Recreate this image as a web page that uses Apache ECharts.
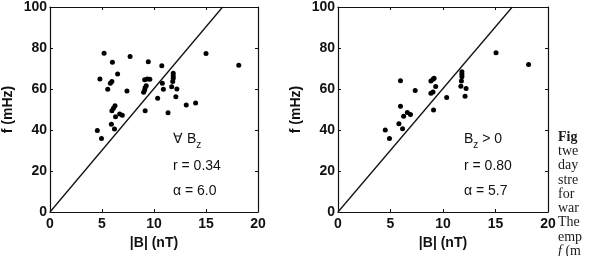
<!DOCTYPE html>
<html>
<head>
<meta charset="utf-8">
<script src="https://cdn.jsdelivr.net/npm/echarts@6.0.0/dist/echarts.min.js"></script>
<style>html,body{margin:0;background:#fff}#main{width:592px;height:256px}</style>
</head>
<body>
<div id="main"></div>
<script>
// |B| (nT), f (mHz) pairs
var allPoints = [
  [5.2, 77.4], [6.0, 73.0], [7.7, 75.8], [9.45, 73.3], [10.75, 71.4], [15.0, 77.3], [18.15, 71.6],
  [4.8, 64.9], [6.5, 67.3], [5.95, 63.6], [5.8, 62.8], [5.55, 59.9], [7.4, 59.0],
  [9.1, 64.5], [9.35, 64.9], [9.6, 64.7], [9.25, 61.6], [9.15, 60.6], [9.1, 59.5], [9.0, 58.4],
  [10.8, 62.8], [10.9, 59.9], [10.35, 55.5],
  [11.85, 67.7], [11.85, 66.3], [11.85, 65.2], [11.8, 63.6], [11.7, 61.1], [12.2, 60.0], [12.1, 56.2],
  [13.1, 52.2], [14.0, 53.2], [11.35, 48.4], [9.15, 49.4],
  [6.25, 51.8], [6.1, 50.6], [5.95, 49.4], [6.7, 47.8], [6.95, 47.2], [6.3, 46.5],
  [5.9, 42.8], [6.2, 40.5], [4.55, 39.7], [4.95, 35.8]
];
var posPoints = [
  [4.5, 40.0], [4.9, 35.9], [5.8, 43.0], [6.15, 40.6], [5.95, 64.0], [5.95, 51.6],
  [6.25, 46.7], [6.6, 48.5], [6.9, 47.6], [7.35, 59.3],
  [8.85, 63.9], [9.05, 64.8], [9.15, 65.3], [9.3, 61.2], [8.85, 57.9], [9.05, 58.5], [9.1, 49.8],
  [10.35, 55.9], [11.8, 68.4], [11.8, 67.2], [11.8, 66.0], [11.75, 63.9], [11.7, 61.4],
  [12.2, 60.3], [12.1, 56.5], [15.05, 77.7], [18.15, 72.0]
];
// straight line f = alpha*|B| as drawn
var fitAll = [[0, 0], [16.6, 100]];
var fitPos = [[0, 0], [16.6, 100]];

var captionLines = ['{b|Fig}', 'twe', 'day', 'stre', 'for', 'war', 'The', 'emp', '{i|f} (m'];

var chart = echarts.init(document.getElementById('main'));

var sans = 'Liberation Sans, Arial, sans-serif';
var serif = 'Liberation Serif, Times New Roman, serif';
var black = '#111';

function xAx(g, top) {
  return {
    type: 'value', gridIndex: g, min: 0, max: 20, interval: 5,
    position: top ? 'top' : 'bottom',
    axisLine: {show: true, onZero: false, lineStyle: {color: black, width: 1.2}},
    axisTick: {show: true, inside: true, length: 3, lineStyle: {color: black}},
    axisLabel: {show: !top, color: black, fontSize: 14, fontWeight: 'bold', fontFamily: sans, margin: 5},
    splitLine: {show: false},
    name: top ? '' : '|B| (nT)', nameLocation: 'middle', nameGap: 24,
    nameTextStyle: {color: black, fontSize: 14, fontWeight: 'bold', fontFamily: sans}
  };
}
function yAx(g, right) {
  return {
    type: 'value', gridIndex: g, min: 0, max: 100, interval: 20,
    position: right ? 'right' : 'left',
    axisLine: {show: true, onZero: false, lineStyle: {color: black, width: 1.2}},
    axisTick: {show: true, inside: true, length: 3, lineStyle: {color: black}},
    axisLabel: {show: !right, color: black, fontSize: 14, fontWeight: 'bold', fontFamily: sans, margin: 3},
    splitLine: {show: false},
    name: right ? '' : 'f (mHz)', nameLocation: 'middle', nameGap: 35,
    nameTextStyle: {color: black, fontSize: 14, fontWeight: 'bold', fontFamily: sans}
  };
}

function dots(pts, i) {
  return {type: 'scatter', xAxisIndex: i, yAxisIndex: i, data: pts, symbolSize: 5,
    itemStyle: {color: '#000', opacity: 1}, silent: true};
}
function fit(pts, i) {
  return {type: 'line', xAxisIndex: i, yAxisIndex: i, data: pts, showSymbol: false,
    lineStyle: {color: black, width: 1.3}, silent: true};
}

function note(x, y, txt) {
  return {type: 'text', x: x, y: y, silent: true,
    style: {text: txt, font: '14px ' + sans, fill: black, verticalAlign: 'middle',
      rich: {s: {fontSize: 10, fontFamily: sans, fill: black, padding: [12, 0, 0, 0]}}}};
}

var graphics = [
  note(173, 139, '\u2200 B{s|z}'),
  note(173, 166, 'r = 0.34'),
  note(173, 191, '\u03b1 = 6.0'),
  note(464, 139, 'B{s|z} > 0'),
  note(464, 166, 'r = 0.80'),
  note(464, 191, '\u03b1 = 5.7')
];
captionLines.forEach(function (t, k) {
  graphics.push({type: 'text', x: 558, y: 137 + k * 14.3, silent: true,
    style: {text: t, fill: '#1a1a1a', verticalAlign: 'middle', font: '14px ' + serif,
      rich: {
        b: {fontWeight: 'bold', fontSize: 14, fontFamily: serif, fill: '#1a1a1a'},
        i: {fontStyle: 'italic', fontSize: 14, fontFamily: serif, fill: '#1a1a1a'}
      }}});
});

var option = {
  animation: false,
  grid: [
    {left: 48, top: 7, width: 210, height: 205},
    {left: 338, top: 7, width: 210, height: 205}
  ],
  xAxis: [xAx(0, false), xAx(0, true), xAx(1, false), xAx(1, true)],
  yAxis: [yAx(0, false), yAx(0, true), yAx(1, false), yAx(1, true)],
  series: [
    fit(fitAll, 0), dots(allPoints, 0),
    fit(fitPos, 2), dots(posPoints, 2)
  ],
  graphic: graphics
};

chart.setOption(option);
</script>
</body>
</html>
